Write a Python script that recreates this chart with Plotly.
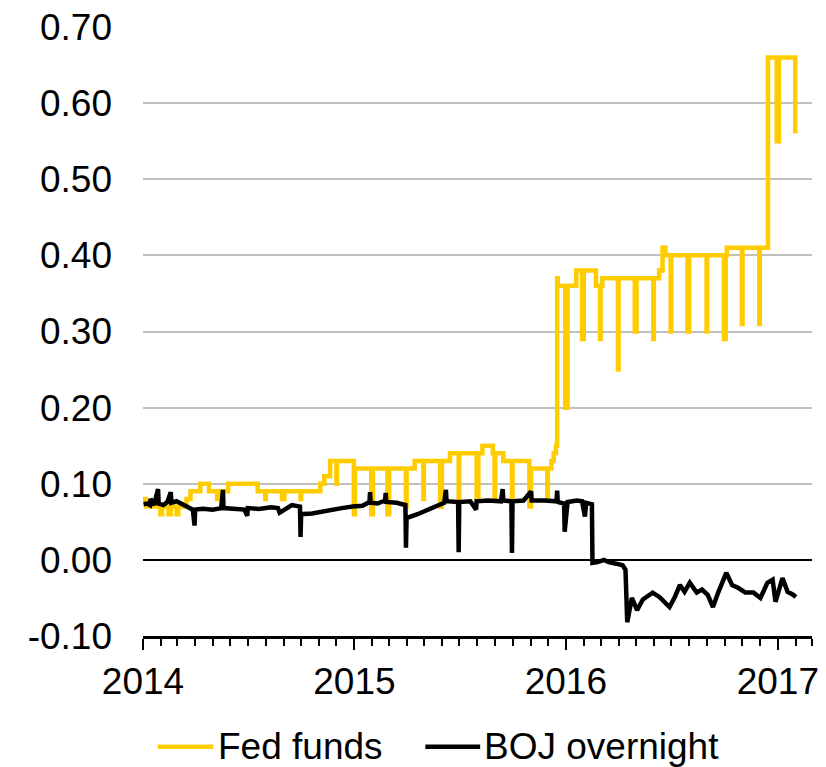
import plotly.graph_objects as go

# ---------------- data ----------------
FED_DATES = [
    "2014-01-01", "2014-01-06", "2014-01-31", "2014-02-03", "2014-02-14", "2014-02-18",
    "2014-02-28", "2014-03-03", "2014-03-17", "2014-03-24", "2014-04-10", "2014-04-25",
    "2014-05-09", "2014-05-12", "2014-05-28", "2014-07-18", "2014-07-31", "2014-08-01",
    "2014-08-29", "2014-09-02", "2014-09-30", "2014-10-01", "2014-11-03", "2014-11-10",
    "2014-11-20", "2014-12-01", "2014-12-02", "2014-12-31",
    "2015-01-02", "2015-01-30", "2015-02-02", "2015-02-27", "2015-03-02", "2015-03-31",
    "2015-04-01", "2015-04-15", "2015-04-30", "2015-05-01", "2015-05-29", "2015-06-01",
    "2015-06-15", "2015-06-30", "2015-07-01", "2015-07-31", "2015-08-03", "2015-08-10",
    "2015-08-28", "2015-08-31", "2015-09-01", "2015-09-15", "2015-09-30", "2015-10-01",
    "2015-10-30", "2015-11-02", "2015-11-30", "2015-12-01", "2015-12-07", "2015-12-11",
    "2015-12-15", "2015-12-17", "2015-12-18", "2015-12-31",
    "2016-01-04", "2016-01-19", "2016-01-29", "2016-02-01", "2016-02-22", "2016-02-29",
    "2016-03-01", "2016-03-04", "2016-03-31", "2016-04-01", "2016-04-29", "2016-05-02",
    "2016-05-31", "2016-06-01", "2016-06-10", "2016-06-16", "2016-06-21", "2016-06-30",
    "2016-07-01", "2016-07-29", "2016-08-01", "2016-08-31", "2016-09-01", "2016-09-30",
    "2016-10-03", "2016-10-05", "2016-10-31", "2016-11-01", "2016-11-30", "2016-12-01",
    "2016-12-15", "2016-12-30", "2017-01-03", "2017-01-31",
]
FED_VALUES = [
    0.08, 0.07, 0.06, 0.07, 0.06, 0.07,
    0.06, 0.07, 0.08, 0.09, 0.10, 0.09,
    0.08, 0.09, 0.10, 0.09, 0.08, 0.09,
    0.08, 0.09, 0.08, 0.09, 0.10, 0.11,
    0.13, 0.10, 0.13, 0.06,
    0.12, 0.06, 0.12, 0.06, 0.12, 0.07,
    0.12, 0.13, 0.08, 0.13, 0.07, 0.13,
    0.14, 0.08, 0.14, 0.08, 0.14, 0.15,
    0.14, 0.08, 0.14, 0.13, 0.08, 0.13,
    0.07, 0.12, 0.08, 0.12, 0.13, 0.14,
    0.15, 0.37, 0.36, 0.20,
    0.36, 0.38, 0.29, 0.38, 0.36, 0.29,
    0.36, 0.37, 0.25, 0.37, 0.30, 0.37,
    0.29, 0.37, 0.38, 0.41, 0.40, 0.30,
    0.40, 0.30, 0.40, 0.30, 0.40, 0.29,
    0.40, 0.41, 0.31, 0.41, 0.31, 0.41,
    0.66, 0.55, 0.66, 0.56,
]

BOJ_DATES = [
    "2014-01-02", "2014-01-08", "2014-01-13", "2014-01-14", "2014-01-20", "2014-01-27",
    "2014-01-28", "2014-02-05", "2014-02-12", "2014-02-18", "2014-02-19", "2014-02-28",
    "2014-03-10", "2014-03-20", "2014-03-28", "2014-03-31", "2014-04-01", "2014-04-15",
    "2014-05-01", "2014-05-16", "2014-05-19", "2014-05-20", "2014-06-10", "2014-06-25",
    "2014-06-30", "2014-07-01", "2014-07-20", "2014-08-10", "2014-08-22", "2014-08-25",
    "2014-09-15", "2014-09-29", "2014-09-30", "2014-10-01", "2014-10-20", "2014-11-10",
    "2014-11-25", "2014-12-10", "2014-12-29",
    "2015-01-15", "2015-01-27", "2015-01-28", "2015-01-29", "2015-02-10", "2015-02-23",
    "2015-02-24", "2015-02-25", "2015-03-15", "2015-03-30", "2015-03-31", "2015-04-01",
    "2015-04-20", "2015-05-10", "2015-05-30", "2015-06-05", "2015-06-08", "2015-06-09",
    "2015-06-29", "2015-06-30", "2015-07-01", "2015-07-20", "2015-07-30", "2015-07-31",
    "2015-08-20", "2015-09-11", "2015-09-14", "2015-09-15", "2015-09-29", "2015-09-30",
    "2015-10-01", "2015-10-20", "2015-11-02", "2015-11-03", "2015-11-25", "2015-12-16",
    "2015-12-17", "2015-12-18", "2015-12-29", "2015-12-30",
    "2016-01-04", "2016-01-20", "2016-01-29", "2016-02-03", "2016-02-05", "2016-02-12",
    "2016-02-15", "2016-02-16", "2016-02-25", "2016-03-07", "2016-03-15", "2016-03-28",
    "2016-04-08", "2016-04-13", "2016-04-16", "2016-04-24", "2016-05-03", "2016-05-13",
    "2016-05-30", "2016-06-11", "2016-06-28", "2016-07-07", "2016-07-16", "2016-07-24",
    "2016-08-02", "2016-08-14", "2016-08-23", "2016-09-02", "2016-09-11", "2016-09-20",
    "2016-10-04", "2016-10-14", "2016-10-25", "2016-11-06", "2016-11-20", "2016-12-02",
    "2016-12-14", "2016-12-23", "2016-12-28", "2017-01-09", "2017-01-18", "2017-01-28",
    "2017-02-01",
]
BOJ_VALUES = [
    0.073, 0.074, 0.072, 0.080, 0.072, 0.093,
    0.074, 0.072, 0.076, 0.089, 0.075, 0.077,
    0.073, 0.070, 0.066, 0.045, 0.066, 0.067,
    0.066, 0.068, 0.092, 0.068, 0.067, 0.066,
    0.058, 0.068, 0.067, 0.069, 0.068, 0.062,
    0.072, 0.070, 0.030, 0.060, 0.061, 0.064,
    0.067, 0.068, 0.070,
    0.071, 0.076, 0.089, 0.075, 0.074, 0.078,
    0.088, 0.076, 0.075, 0.072, 0.016, 0.055,
    0.060, 0.066, 0.072, 0.075, 0.092, 0.077,
    0.076, 0.010, 0.076, 0.077, 0.066, 0.077,
    0.078, 0.077, 0.093, 0.078, 0.077, 0.009,
    0.077, 0.078, 0.090, 0.078, 0.078, 0.077,
    0.091, 0.076, 0.074, 0.037,
    0.076, 0.078, 0.077, 0.057, 0.075, 0.074,
    0.073, -0.004, -0.003, 0.000, -0.003, -0.005,
    -0.007, -0.013, -0.082, -0.050, -0.066, -0.052,
    -0.043, -0.049, -0.062, -0.049, -0.033, -0.042,
    -0.030, -0.043, -0.039, -0.046, -0.062, -0.043,
    -0.017, -0.033, -0.037, -0.043, -0.043, -0.050,
    -0.030, -0.026, -0.055, -0.024, -0.042, -0.046,
    -0.049,
]

SERIES_NAMES = ["Fed funds", "BOJ overnight"]
SERIES_COLORS = ["#FFCC00", "#000000"]
Y_TICK_VALUES = [-0.10, 0.00, 0.10, 0.20, 0.30, 0.40, 0.50, 0.60, 0.70]
Y_TICK_LABELS = ["-0.10", "0.00", "0.10", "0.20", "0.30", "0.40", "0.50", "0.60", "0.70"]

FONT = "Liberation Sans, Arial, sans-serif"
FS = 37

fig = go.Figure()
fig.add_trace(go.Scatter(
    x=FED_DATES, y=FED_VALUES, mode="lines", name=SERIES_NAMES[0],
    line=dict(color=SERIES_COLORS[0], width=4.5, shape="hv"), showlegend=False,
))
fig.add_trace(go.Scatter(
    x=BOJ_DATES, y=BOJ_VALUES, mode="lines", name=SERIES_NAMES[1],
    line=dict(color=SERIES_COLORS[1], width=4.5), showlegend=False,
))

fig.update_layout(
    width=826, height=767,
    margin=dict(l=143, r=14, t=27, b=131),
    paper_bgcolor="white", plot_bgcolor="white",
    font=dict(family=FONT, size=FS, color="black"),
    showlegend=False,
)
fig.update_xaxes(
    type="date", range=["2014-01-01", "2017-03-01"], automargin=False,
    tick0="2014-01-01", dtick="M12", tickformat="%Y",
    ticks="outside", ticklen=11, tickwidth=2, tickcolor="black",
    showline=True, linecolor="black", linewidth=2.5,
    showgrid=False, zeroline=False,
    tickfont=dict(size=FS, family=FONT, color="black"),
    minor=dict(dtick="M1", tick0="2014-01-01", ticks="outside", ticklen=7,
               tickwidth=2, tickcolor="black", showgrid=False),
)
fig.update_yaxes(
    range=[-0.10, 0.70], tickvals=Y_TICK_VALUES, ticktext=Y_TICK_LABELS,
    automargin=False,
    showgrid=True, gridcolor="#C0C0C0", gridwidth=2,
    zeroline=True, zerolinecolor="black", zerolinewidth=2,
    showline=False, ticks="", ticklabelstandoff=30,
    tickfont=dict(size=FS, family=FONT, color="black"),
)

# legend drawn below the plot
LEG_Y = -0.182
legend_items = [
    (0.022, 0.105, 0.109),
    (0.422, 0.504, 0.507),
]
for (x0, x1, xt), name, color in zip(legend_items, SERIES_NAMES, SERIES_COLORS):
    fig.add_shape(type="line", xref="paper", yref="paper", x0=x0, x1=x1,
                  y0=LEG_Y, y1=LEG_Y, line=dict(color=color, width=4.5))
    fig.add_annotation(xref="paper", yref="paper", x=xt, y=LEG_Y, text=name,
                       showarrow=False, xanchor="left", yanchor="middle",
                       font=dict(size=FS, family=FONT, color="black"))

fig.write_html(
    "out.html",
    config={"displayModeBar": False},
    post_script="document.body.style.margin='0';document.body.style.overflow='hidden';",
)
